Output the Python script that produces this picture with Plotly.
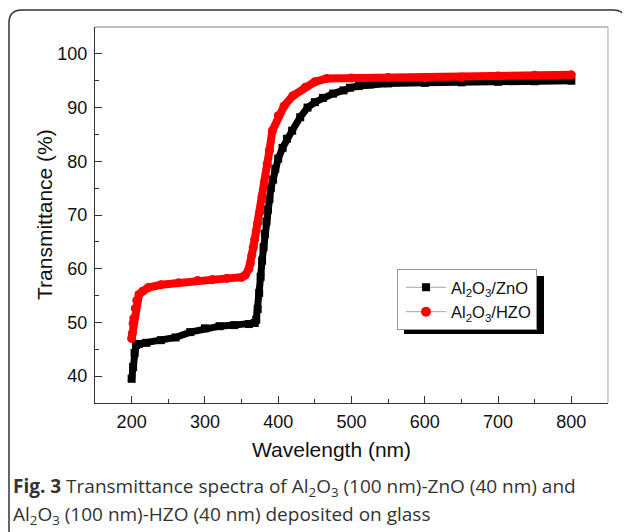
import plotly.graph_objects as go

# ---- data ----
zno_wl = [200, 202, 204, 206, 210, 220, 240, 260, 280, 300, 320, 340, 360, 368,
          370, 372, 374, 376, 378, 380, 382, 384, 386, 388, 390, 393, 396, 400,
          406, 412, 419, 430, 440, 450, 461, 475, 489, 498, 510, 525, 550, 600,
          650, 700, 750, 800]
zno_t = [39.5, 41.7, 44.3, 45.8, 46.0, 46.2, 46.7, 47.2, 48.2, 48.9, 49.3, 49.5, 49.7, 49.9,
         50.5, 52.5, 55.5, 58.5, 61.5, 64.0, 66.5, 68.8, 71.0, 73.0, 75.0, 76.6, 78.6, 80.5,
         82.5, 84.2, 85.7, 88.2, 90.0, 91.0, 91.8, 92.6, 93.2, 93.7, 94.0, 94.3, 94.5, 94.6,
         94.7, 94.8, 94.9, 95.0]

hzo_wl = [200, 201, 202, 203, 205, 207, 210, 215, 223, 240, 264, 290, 310, 330, 350,
          355, 360, 362, 364, 366, 368, 370, 372, 375, 378, 381, 385, 388, 392, 400,
          408, 420, 437, 450, 466, 500, 550, 600, 650, 700, 750, 800]
hzo_t = [47.0, 48.0, 49.8, 50.8, 52.6, 54.1, 55.2, 55.8, 56.5, 57.0, 57.4, 57.8, 58.0, 58.2, 58.4,
         58.8, 60.0, 61.0, 62.5, 64.0, 65.5, 67.0, 68.5, 70.5, 73.5, 76.0, 79.5, 82.0, 85.7, 88.5,
         90.3, 92.2, 93.8, 94.8, 95.4, 95.5, 95.6, 95.6, 95.7, 95.9, 96.0, 96.1]

names = ["Al<sub>2</sub>O<sub>3</sub>/ZnO", "Al<sub>2</sub>O<sub>3</sub>/HZO"]
x_ticks = [200, 300, 400, 500, 600, 700, 800]
y_ticks = [40, 50, 60, 70, 80, 90, 100]
x_title = "Wavelength (nm)"
y_title = "Transmittance (%)"

caption1 = "<b>Fig. 3</b> Transmittance spectra of Al<sub>2</sub>O<sub>3</sub> (100 nm)-ZnO (40 nm) and"
caption2 = "Al<sub>2</sub>O<sub>3</sub> (100 nm)-HZO (40 nm) deposited on glass"

# page body has an 8px margin; lay out in window pixels and compensate
OFF = 8
W, H = 630 - OFF, 532 - OFF
PL, PT, PR, PB = 95, 27, 608, 403          # plot area in window pixels
L, T = PL - OFF, PT - OFF
R, B = W - (PR - OFF), H - (PB - OFF)
pw, ph = PR - PL, PB - PT


def px(x):
    return (x - PL) / pw


def py(y):
    return (PB - y) / ph


fig = go.Figure()

fig.add_trace(go.Scatter(x=zno_wl, y=zno_t, mode="lines+markers", showlegend=False,
                         line=dict(color="black", width=7),
                         marker=dict(symbol="square", size=8, color="black")))
fig.add_trace(go.Scatter(x=hzo_wl, y=hzo_t, mode="lines+markers", showlegend=False,
                         line=dict(color="#ff0000", width=8),
                         marker=dict(symbol="circle", size=9, color="#ff0000")))
# legend entries
fig.add_trace(go.Scatter(x=[None], y=[None], mode="lines+markers", name=names[0],
                         line=dict(color="#a0a0a0", width=1),
                         marker=dict(symbol="square", size=8, color="black")))
fig.add_trace(go.Scatter(x=[None], y=[None], mode="lines+markers", name=names[1],
                         line=dict(color="#ff8080", width=1),
                         marker=dict(symbol="circle", size=10, color="#ff0000")))

axis_font = dict(family="Liberation Sans, Arial", size=18, color="#111")

fig.update_xaxes(range=[150, 850], tickvals=x_ticks, ticks="inside", ticklen=7, tickwidth=1.2,
                 tickcolor="#333", showline=True, linecolor="#333", linewidth=1.3,
                 showgrid=False, zeroline=False, tickfont=axis_font, ticklabelstandoff=2,
                 minor=dict(dtick=50, tick0=150, ticks="inside", ticklen=4, tickwidth=1.2, tickcolor="#333"))
fig.update_yaxes(range=[35, 105], tickvals=y_ticks, ticks="inside", ticklen=7, tickwidth=1.2,
                 tickcolor="#333", showline=True, linecolor="#333", linewidth=1.3,
                 showgrid=False, zeroline=False, tickfont=axis_font, ticklabelstandoff=3,
                 minor=dict(dtick=5, tick0=35, ticks="inside", ticklen=4, tickwidth=1.2, tickcolor="#333"))

shapes = []
# top and right frame lines (lighter)
shapes.append(dict(type="line", xref="paper", yref="paper", x0=0, x1=1, y0=1, y1=1,
                   line=dict(color="#aaaaaa", width=1.3)))
shapes.append(dict(type="line", xref="paper", yref="paper", x0=1, x1=1, y0=0, y1=1,
                   line=dict(color="#bbbbbb", width=1.3)))
# legend shadow
shapes.append(dict(type="rect", xref="paper", yref="paper",
                   x0=px(404), x1=px(544), y0=py(334), y1=py(276),
                   fillcolor="black", line=dict(width=0), layer="above"))
# rounded outer border
x0, x1, y0, y1, r = 9, 626, 10, 542, 13
ax0, ax1 = px(x0), px(x1)
ay0, ay1 = py(y0), py(y1)
rx, ry = r / pw, r / ph
path = (f"M {ax0 + rx},{ay0} L {ax1 - rx},{ay0} Q {ax1},{ay0} {ax1},{ay0 - ry} "
        f"L {ax1},{ay1 + ry} Q {ax1},{ay1} {ax1 - rx},{ay1} L {ax0 + rx},{ay1} "
        f"Q {ax0},{ay1} {ax0},{ay1 + ry} L {ax0},{ay0 - ry} Q {ax0},{ay0} {ax0 + rx},{ay0} Z")
shapes.append(dict(type="path", xref="paper", yref="paper", path=path,
                   line=dict(color="#333333", width=1.5)))

title_font = dict(family="Liberation Sans, Arial", size=21, color="#111")
cap_font = dict(family="Open Sans", size=19, color="#333")
annotations = [
    dict(text=x_title, xref="paper", yref="paper", x=px(331), y=py(449), xanchor="center",
         yanchor="middle", showarrow=False, font=title_font),
    dict(text=y_title, xref="paper", yref="paper", x=px(44), y=py(215), xanchor="center",
         yanchor="middle", showarrow=False, font=title_font, textangle=-90),
    dict(text=caption1, xref="paper", yref="paper", x=px(11), y=py(487), xanchor="left",
         yanchor="middle", showarrow=False, font=cap_font),
    dict(text=caption2, xref="paper", yref="paper", x=px(11), y=py(515), xanchor="left",
         yanchor="middle", showarrow=False, font=cap_font),
]

fig.update_layout(
    width=W, height=H, margin=dict(l=L, r=R, t=T, b=B),
    paper_bgcolor="white", plot_bgcolor="white",
    shapes=shapes, annotations=annotations,
    legend=dict(x=px(397), y=py(269), xanchor="left", yanchor="top",
                bgcolor="white", bordercolor="#999999", borderwidth=1,
                font=dict(family="Liberation Sans, Arial", size=16.5, color="#111"),
                tracegroupgap=0, itemwidth=40, indentation=3),
)

fig.write_html("out.html")
